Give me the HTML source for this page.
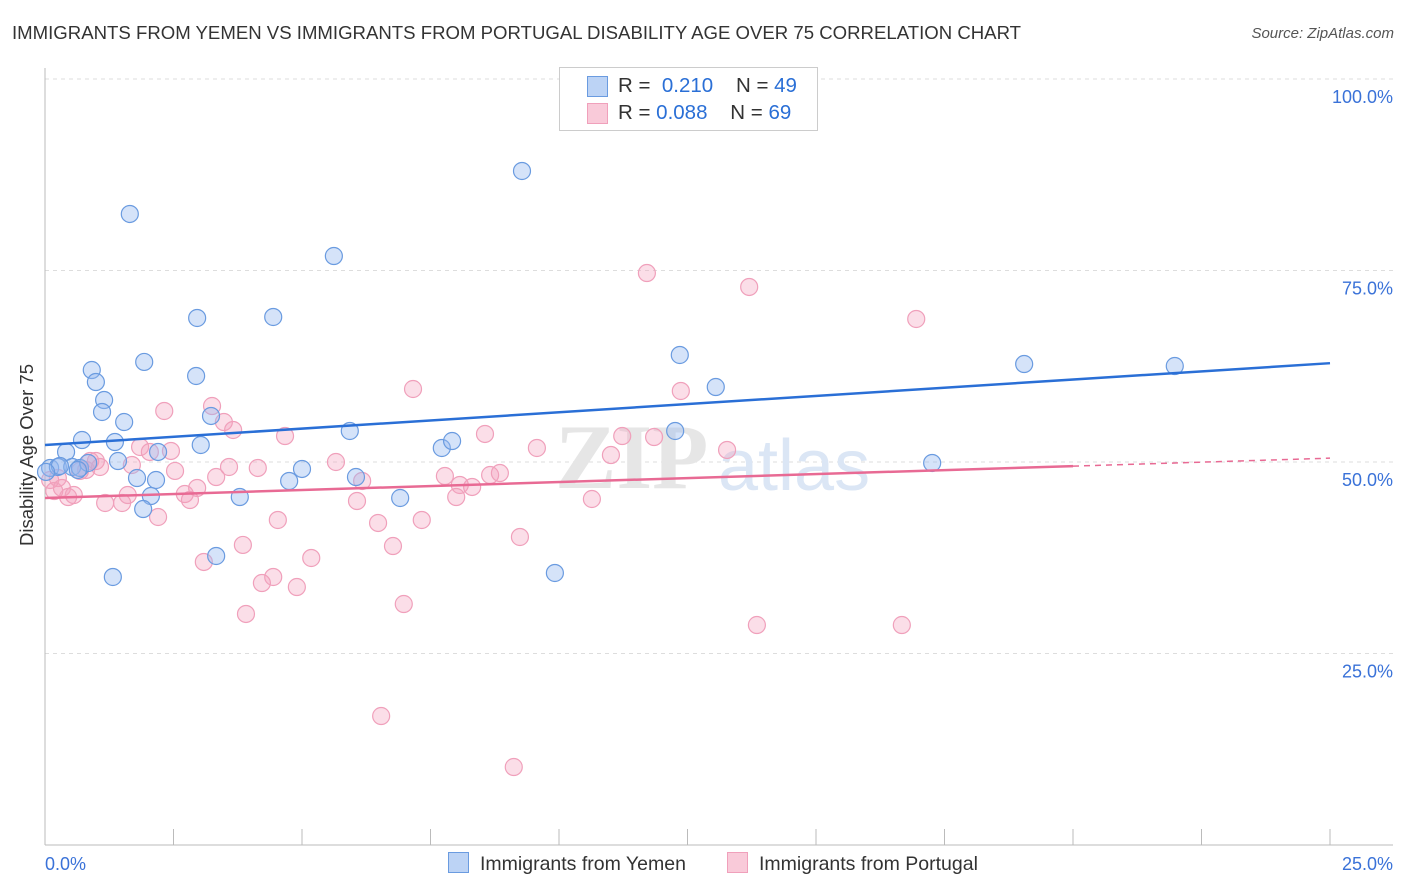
<!DOCTYPE html>
<html><head><meta charset="utf-8"><style>
body{margin:0;background:#fff;font-family:"Liberation Sans",sans-serif}
#wrap{position:relative;width:1406px;height:892px;overflow:hidden}
.t{position:absolute;white-space:nowrap}
</style></head><body>
<div id="wrap">
<div class="t" style="left:12px;top:22px;font-size:18.6px;color:#333">IMMIGRANTS FROM YEMEN VS IMMIGRANTS FROM PORTUGAL DISABILITY AGE OVER 75 CORRELATION CHART</div>
<div class="t" style="right:12px;top:25px;font-size:15px;color:#555;font-style:italic">Source: ZipAtlas.com</div>
<svg id="svg" width="1406" height="892" style="position:absolute;left:0;top:0"></svg>
</div>
<script>
const xTicks=[0,25];
const yTicks=[25,50,75,100];
const yemenX=[9.28,1.65,5.62,2.96,4.44,0.91,0.99,1.93,2.94,1.15,1.11,1.54,3.23,12.35,13.05,19.05,21.98,0.72,0.41,1.36,1.42,2.20,3.03,5.93,7.72,7.92,12.26,17.26,0.10,0.25,0.53,0.68,0.84,0.64,1.79,2.16,2.06,1.91,3.79,4.75,5.00,6.05,6.91,3.33,1.32,9.92,0.29,0.02];
const yemenY=[87.99,82.38,76.89,68.80,68.93,62.01,60.44,63.06,61.23,58.09,56.53,55.22,56.01,63.97,59.79,62.79,62.53,52.87,51.31,52.61,50.13,51.31,52.22,54.05,51.83,52.74,54.05,49.87,49.22,49.35,49.35,49.22,49.87,48.96,47.91,47.65,45.56,43.86,45.43,47.52,49.09,48.04,45.30,37.73,34.99,35.51,49.48,48.70];
const portX=[11.71,13.70,16.95,7.16,12.37,2.32,3.25,3.48,3.66,4.67,8.56,9.57,11.23,11.85,11.01,13.27,1.85,2.04,2.45,0.99,1.69,2.53,4.14,3.33,3.58,5.66,6.17,7.78,8.07,8.31,8.66,8.85,0.10,0.25,0.33,0.18,0.45,0.56,0.80,1.07,1.17,1.50,1.61,2.20,2.72,2.82,2.96,4.53,6.07,6.48,7.33,8.00,10.64,9.24,3.85,6.77,5.18,3.09,4.44,4.22,4.90,6.98,3.91,13.85,16.67,6.54,9.12,0.88,0.68];
const portY=[74.67,72.85,68.67,59.53,59.27,56.66,57.31,55.22,54.18,53.39,53.66,51.83,53.39,53.26,50.91,51.57,51.96,51.31,51.44,50.13,49.61,48.83,49.22,48.04,49.35,50.00,47.52,48.17,47.00,46.74,48.30,48.56,47.65,47.91,46.61,46.21,45.43,45.69,48.96,49.35,44.65,44.65,45.69,42.82,45.82,45.04,46.61,42.43,44.91,42.04,42.43,45.43,45.17,40.21,39.17,39.03,37.47,36.95,34.99,34.20,33.68,31.46,30.16,28.72,28.72,16.84,10.18,50.13,48.83];
const yemenTrend=[52.22,62.9];
const portTrend=[45.3,50.5];
const portSolidEnd=20;

const X0=45,X1=1330,Y0=845,Y100=79;
const sx=v=>X0+(v/25)*(X1-X0);
const sy=v=>Y0-(v/100)*(Y0-Y100);
const svg=document.getElementById('svg');
const NS='http://www.w3.org/2000/svg';
function mk(tag,attrs){const e=document.createElementNS(NS,tag);for(const k in attrs)e.setAttribute(k,attrs[k]);svg.appendChild(e);return e;}

for(const t of yTicks){
 const g=mk('line',{x1:45,x2:1393,y1:sy(t),y2:sy(t),stroke:'#ddd','stroke-dasharray':'4,4'});
 
 
 const tx=mk('text',{x:1393,y:sy(t)+24,'text-anchor':'end','font-size':18,fill:'#3a72d8'});
 
 
 tx.textContent=t.toFixed(1)+'%';
}
let ax=mk('line',{x1:45,x2:45,y1:68,y2:845,stroke:'#bbb'});


ax=mk('line',{x1:45,x2:1393,y1:845,y2:845,stroke:'#bbb'});


for(let i=1;i<=10;i++){
 const tk=mk('line',{x1:sx(i*2.5),x2:sx(i*2.5),y1:829,y2:845,stroke:'#bbb'});
 
 
}
for(const t of xTicks){
 const tx=mk('text',{x:t===0?45:1393,y:870,'text-anchor':t===0?'start':'end','font-size':18,fill:'#3a72d8'});
 
 
 tx.textContent=t.toFixed(1)+'%';
}
let yt=mk('text',{x:0,y:0,'font-size':18.5,fill:'#333','text-anchor':'middle',transform:'translate(33,455) rotate(-90)'});


yt.textContent='Disability Age Over 75';

let wm=mk('text',{x:555,y:488,'font-size':92,fill:'#e6e6e6','font-family':'Liberation Serif','font-weight':'bold'});


wm.textContent='ZIP';
wm=mk('text',{x:718,y:490,'font-size':72,fill:'#dbe6f5'});


wm.textContent='atlas';

for(let i=0;i<portX.length;i++){
 const c=mk('circle',{cx:sx(portX[i]),cy:sy(portY[i]),r:8.5,fill:'rgba(244,160,188,0.35)',stroke:'#f0a0bb','stroke-width':1.2});
 
 
}
for(let i=0;i<yemenX.length;i++){
 const c=mk('circle',{cx:sx(yemenX[i]),cy:sy(yemenY[i]),r:8.5,fill:'rgba(150,185,240,0.4)',stroke:'#6a9be0','stroke-width':1.2});
 
 
}
let tl=mk('line',{x1:sx(0),y1:sy(yemenTrend[0]),x2:sx(25),y2:sy(yemenTrend[1]),stroke:'#2a6fd6','stroke-width':2.5});


const py=x=>portTrend[0]+(portTrend[1]-portTrend[0])*x/25;
tl=mk('line',{x1:sx(0),y1:sy(py(0)),x2:sx(portSolidEnd),y2:sy(py(portSolidEnd)),stroke:'#e86a94','stroke-width':2.5});


tl=mk('line',{x1:sx(portSolidEnd),y1:sy(py(portSolidEnd)),x2:sx(25),y2:sy(py(25)),stroke:'#e86a94','stroke-width':1.5,'stroke-dasharray':'6,5'});


</script>
<div class="t" style="left:559px;top:67px;width:257px;height:62px;border:1px solid #ccc;background:#fff;font-size:20.5px;color:#333">
 <div style="position:absolute;left:27px;top:8px;width:19px;height:19px;background:#bcd3f5;border:1px solid #6a9be0"></div>
 <div style="position:absolute;left:58px;top:6px">R = <span style="color:#2a6fd6">&nbsp;0.210</span>&nbsp;&nbsp;&nbsp; N = <span style="color:#2a6fd6">49</span></div>
 <div style="position:absolute;left:27px;top:35px;width:19px;height:19px;background:#f9cad9;border:1px solid #f0a0bb"></div>
 <div style="position:absolute;left:58px;top:33px">R = <span style="color:#2a6fd6">0.088</span>&nbsp;&nbsp;&nbsp; N = <span style="color:#2a6fd6">69</span></div>
</div>
<div class="t" style="left:448px;top:852px;font-size:19.5px;color:#333"><span style="display:inline-block;width:19px;height:19px;background:#bcd3f5;border:1px solid #6a9be0;vertical-align:-3px;margin-right:11px"></span>Immigrants from Yemen</div>
<div class="t" style="left:727px;top:852px;font-size:19.5px;color:#333"><span style="display:inline-block;width:19px;height:19px;background:#f9cad9;border:1px solid #f0a0bb;vertical-align:-3px;margin-right:11px"></span>Immigrants from Portugal</div>
</body></html>
